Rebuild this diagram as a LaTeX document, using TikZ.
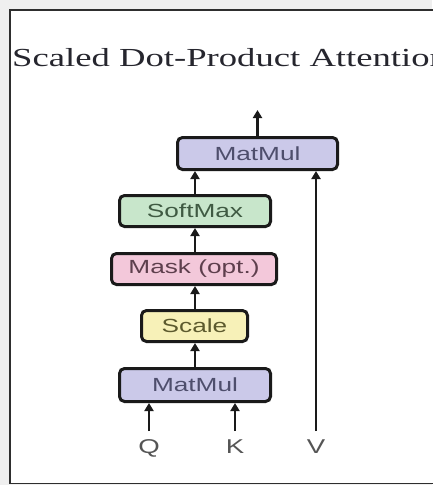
\documentclass[tikz,border=0pt]{standalone}
\usepackage{fontspec}
\setmainfont{Liberation Serif}
\setsansfont{Liberation Sans}
\usetikzlibrary{arrows.meta}

\definecolor{pagegrey}{HTML}{EFEFEF}
\definecolor{framegrey}{HTML}{2E2E2E}
\definecolor{titleink}{HTML}{26262E}
\definecolor{edgeink}{HTML}{1A1A1A}
\definecolor{matfill}{HTML}{CBC9E9}
\definecolor{matink}{HTML}{4E4E6C}
\definecolor{softfill}{HTML}{C8E6CB}
\definecolor{softink}{HTML}{3F5A42}
\definecolor{maskfill}{HTML}{F3C8DA}
\definecolor{maskink}{HTML}{5E3F4D}
\definecolor{scalefill}{HTML}{F7F1B8}
\definecolor{scaleink}{HTML}{5C5A2E}
\definecolor{labelink}{HTML}{555555}

% text set a little wider than its natural width
\newcommand{\widetext}[2][1.38]{\scalebox{#1}[1]{#2}}

\tikzset{
  opbox/.style={draw=edgeink, line width=3pt, rounded corners=5pt,
    inner sep=0pt, font=\sffamily\fontsize{19}{19}\selectfont},
  arr/.style={draw=edgeink, line width=2.6pt,
    -{Triangle[width=9pt,length=8pt]}},
  inlabel/.style={anchor=north, inner xsep=2pt, inner ysep=8pt,
    text height=14pt, text depth=1pt, text=labelink,
    font=\sffamily\fontsize{20}{20}\selectfont}
}

\begin{document}
\begin{tikzpicture}[x=1pt,y=-1pt]
  \useasboundingbox (0,0) rectangle (432,485);
  % page and frame
  \fill[pagegrey] (0,0) rectangle (432,485);
  \fill[white] (10,10) rectangle (432,483.5);
  \draw[framegrey, line width=1.5pt] (433,10) -- (10,10) -- (10,483.5) -- (433,483.5);

  % heading
  \node[anchor=base west, inner sep=0pt, text=titleink,
        font=\fontsize{26}{26}\selectfont] (title) at (12,66)
        {\widetext[1.41]{Scaled Dot-Product Attention}};

  % operation blocks
  \node[opbox, fill=matfill, text=matink, minimum width=160pt, minimum height=32pt]
        (mmtop) at (257.5,153.5) {\widetext{MatMul}};
  \node[opbox, fill=softfill, text=softink, minimum width=151pt, minimum height=31pt]
        (soft) at (195,211) {\widetext{SoftMax}};
  \node[opbox, fill=maskfill, text=maskink, minimum width=165pt, minimum height=31pt]
        (mask) at (194,269) {\widetext{Mask (opt.)}};
  \node[opbox, fill=scalefill, text=scaleink, minimum width=106pt, minimum height=31pt]
        (scale) at (194.5,326) {\widetext{Scale}};
  \node[opbox, fill=matfill, text=matink, minimum width=151pt, minimum height=33pt]
        (mmbot) at (195,385) {\widetext{MatMul}};

  % inputs
  \node[inlabel] (Q) at (149,431) {\widetext{Q}};
  \node[inlabel] (K) at (235,431) {\widetext{K}};
  \node[inlabel] (V) at (316,431) {\widetext{V}};

  \coordinate (out) at (257.5,110);

  % data flow
  \draw[arr] (Q.north) -- (Q.north |- mmbot.south);
  \draw[arr] (K.north) -- (K.north |- mmbot.south);
  \draw[arr] (mmbot.north) -- (mmbot.north |- scale.south);
  \draw[arr] (scale.north -| mmbot.north) -- (mmbot.north |- mask.south);
  \draw[arr] (mask.north -| mmbot.north) -- (mmbot.north |- soft.south);
  \draw[arr] (soft.north -| mmbot.north) -- (mmbot.north |- mmtop.south);
  \draw[arr] (V.north) -- (V.north |- mmtop.south);
  \draw[arr] (mmtop.north) -- (out);
\end{tikzpicture}
\end{document}
